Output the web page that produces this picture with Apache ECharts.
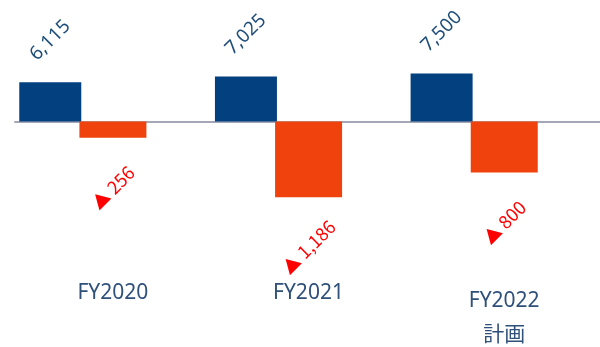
<!DOCTYPE html>
<html>
<head>
<meta charset="utf-8">
<script src="https://cdn.jsdelivr.net/npm/echarts@6/dist/echarts.min.js"></script>
<style>
  html, body { margin: 0; padding: 0; background: #fff; }
  #main { width: 600px; height: 347px; }
</style>
</head>
<body>
<div id="main"></div>
<script>
// 年度
var categories = ['FY2020', 'FY2021', 'FY2022\n計画'];
// 青い棒（上側）
var blueValues = [6115, 7025, 7500];
// オレンジの棒（下側）
var orangeValues = [-256, -1186, -800];

var myChart = echarts.init(document.getElementById('main'));

var FONT = '"Noto Sans", "Noto Sans CJK JP", sans-serif';

function fmt(v) {
  return Math.abs(v).toLocaleString('en-US');
}

myChart.setOption({
  animation: false,
  grid: { left: 15, right: -2, top: 20, height: 240, outerBoundsMode: 'none', containLabel: false },
  xAxis: {
    type: 'category',
    data: categories.map(function (c) {
      return c.indexOf('\n') >= 0 ? { value: c, textStyle: { lineHeight: 34, padding: [3, 0, 0, 0] } } : c;
    }),
    axisLine: { lineStyle: { color: '#a5a6b6', width: 2 } },
    axisTick: { show: false },
    axisLabel: {
      margin: 21,
      color: '#2e5079',
      fontSize: 21,
      fontFamily: FONT,
      lineHeight: 24
    }
  },
  yAxis: [
    { type: 'value', show: false, min: -21641, max: 15859, splitLine: { show: false } },
    { type: 'value', show: false, min: -2171, max: 1591, splitLine: { show: false } }
  ],
  series: [
    {
      type: 'bar',
      yAxisIndex: 0,
      data: blueValues,
      barWidth: 62,
      itemStyle: { color: '#02407f' },
      label: {
        show: true,
        position: 'top',
        distance: 42,
        rotate: 45,
        align: 'center',
        verticalAlign: 'middle',
        color: '#1f4e79',
        fontSize: 19,
        fontFamily: FONT,
        formatter: function (p) { return fmt(p.value); }
      }
    },
    {
      type: 'bar',
      yAxisIndex: 1,
      data: orangeValues,
      barWidth: 67,
      barGap: '-3%',
      itemStyle: { color: '#f0420d' },
      label: {
        show: true,
        position: 'bottom',
        distance: 50,
        rotate: 45,
        align: 'center',
        verticalAlign: 'middle',
        color: '#ff0000',
        fontSize: 18,
        fontFamily: '"Noto Sans CJK JP", sans-serif',
        formatter: function (p) { return '▲ ' + fmt(p.value); }
      }
    },
    {
      // 右側の空き（棒を左寄せにするための空系列）
      type: 'bar',
      yAxisIndex: 0,
      data: [null, null, null],
      barWidth: 62,
      barGap: '-3%',
      silent: true
    }
  ]
});
</script>
</body>
</html>
